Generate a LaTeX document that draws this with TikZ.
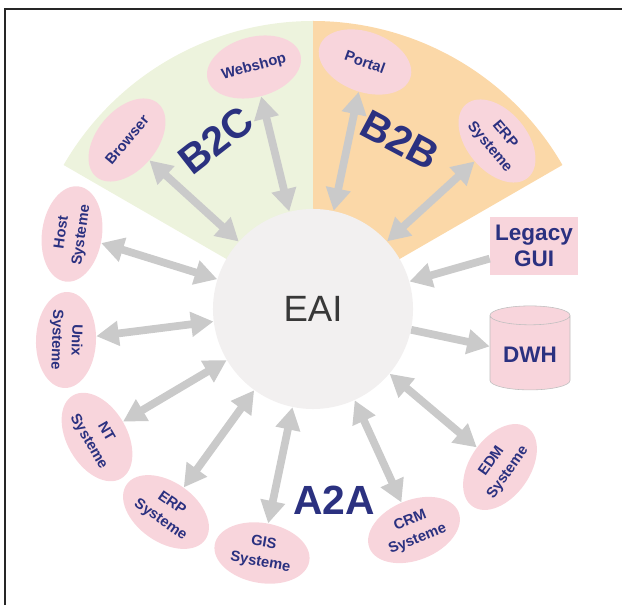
\documentclass[tikz,border=0pt]{standalone}
\usepackage{fontspec}
\setmainfont{Liberation Sans}
\usetikzlibrary{shapes.geometric,arrows.meta}
\definecolor{navy}{RGB}{43,49,128}
\definecolor{pinkfill}{RGB}{248,213,220}
\definecolor{b2cgreen}{RGB}{237,243,221}
\definecolor{b2borange}{RGB}{251,216,168}
\definecolor{arrowgray}{RGB}{202,202,202}
\definecolor{eaigray}{RGB}{242,240,240}

\begin{document}
\begin{tikzpicture}[x=0.025cm, y=0.025cm,
    sys/.style = {ellipse, fill=pinkfill, minimum width=2.4cm, minimum height=1.5cm, inner sep=0pt, align=center, text=navy, font=\fontsize{10.5}{14}\selectfont\bfseries},
    group/.style = {text=navy, font=\fontsize{29}{30}\selectfont\bfseries},
    both/.style = {arrowgray, line width=5.5pt, {Triangle[length=16pt,width=17pt]}-{Triangle[length=16pt,width=17pt]}},
    one/.style = {arrowgray, line width=5.5pt, -{Triangle[length=16pt,width=17pt]}}]
    \useasboundingbox (0,0) rectangle (622,605);
    \draw[line width=1.5pt, black!85] (5,0) -- (5,596) -- (622,596);
    \fill[b2cgreen] (313,296) -- ++(150:288) arc (150:90:288) -- cycle;
    \fill[b2borange] (313,296) -- ++(90:288) arc (90:30:288) -- cycle;
    \node[circle, fill=eaigray, minimum size=5cm, font=\fontsize{26}{28}\selectfont, text=black!78] (eai) at (313,296) {EAI};
    \node[sys, rotate=15] (webshop) at (254,538) {Webshop};
    \node[sys, rotate=50] (browser) at (127,465) {Browser};
    \node[sys, rotate=-20] (portal) at (365,543) {Portal};
    \node[sys, rotate=-50] (erpb) at (497,464) {ERP\\Systeme};
    \node[sys, rotate=82] (host) at (72,371) {Host\\Systeme};
    \node[sys, rotate=-92] (unix) at (66,265) {Unix\\Systeme};
    \node[sys, rotate=-60] (nt) at (97,168) {NT\\Systeme};
    \node[sys, rotate=-35] (erpa) at (166,93) {ERP\\Systeme};
    \node[sys, rotate=-10] (gis) at (262,52) {GIS\\Systeme};
    \node[sys, rotate=22] (crm) at (414,75) {CRM\\Systeme};
    \node[sys, rotate=55] (edm) at (500,138) {EDM\\Systeme};
    \node[rectangle, fill=pinkfill, minimum width=2.2cm, minimum height=1.45cm, align=center, text=navy, font=\fontsize{16}{18}\selectfont\bfseries] (legacy) at (534,359) {Legacy\\GUI};
    \node[cylinder, shape border rotate=90, aspect=0.3, draw=black!25, fill=pinkfill, minimum width=2cm, minimum height=2.1cm, text=navy, font=\fontsize{16}{18}\selectfont\bfseries] (dwh) at (530,250) {DWH};
    \node[group, rotate=38] (b2c) at (216,465) {B2C};
    \node[group, rotate=-28] (b2b) at (400,465) {B2B};
    \node[group] (a2a) at (334,105) {A2A};
    \path
        (eai) edge[both] (webshop)
        (eai) edge[both] (browser)
        (eai) edge[both] (portal)
        (eai) edge[both] (erpb)
        (eai) edge[both] (host)
        (eai) edge[both] (unix)
        (eai) edge[both] (nt)
        (eai) edge[both] (erpa)
        (eai) edge[both] (gis)
        (eai) edge[both] (crm)
        (eai) edge[both] (edm)
        (legacy) edge[one] (eai)
        (eai) edge[one] (dwh);
\end{tikzpicture}
\end{document}
